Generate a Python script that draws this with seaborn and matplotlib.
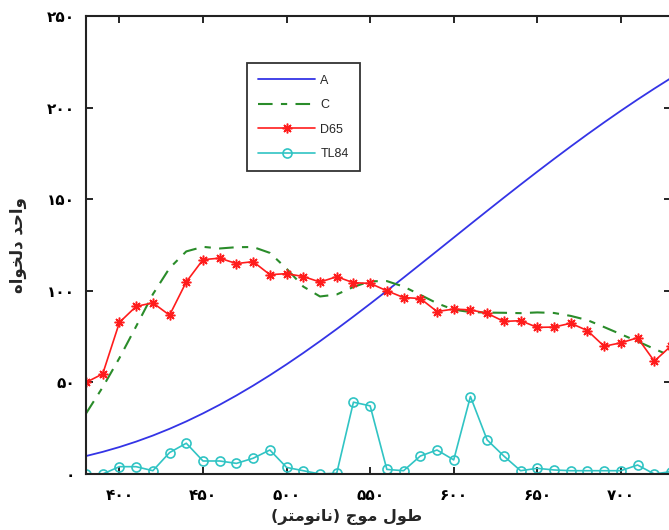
import numpy as np
import pandas as pd
import matplotlib
matplotlib.use("Agg")
import matplotlib.pyplot as plt
import seaborn as sns
from matplotlib.ticker import FixedLocator, FixedFormatter

# ---------------- data ----------------
wavelength = list(range(380, 740, 10))

illum_A = [9.80, 12.09, 14.71, 17.68, 20.99, 24.67, 28.70, 33.09, 37.81, 42.87,
           48.24, 53.91, 59.86, 66.06, 72.50, 79.13, 85.95, 92.91, 100.00, 107.18,
           114.44, 121.73, 129.04, 136.35, 143.62, 150.84, 157.98, 165.03, 171.96,
           178.77, 185.43, 191.93, 198.26, 204.41, 210.36, 216.12]

illum_C = [33.0, 47.4, 63.3, 80.6, 98.1, 112.4, 121.5, 124.0, 123.1, 123.8,
           123.9, 120.7, 112.1, 102.3, 96.9, 98.0, 102.1, 105.2, 105.3, 102.3,
           97.8, 93.2, 89.7, 88.4, 88.1, 88.0, 87.8, 88.2, 87.9, 86.3,
           84.0, 80.2, 76.3, 72.4, 68.3, 64.4]

illum_D65 = [49.98, 54.65, 82.75, 91.49, 93.43, 86.68, 104.86, 117.01, 117.81, 114.86,
             115.92, 108.81, 109.35, 107.80, 104.79, 107.69, 104.41, 104.05, 100.00, 96.33,
             95.79, 88.69, 90.01, 89.60, 87.70, 83.29, 83.70, 80.03, 80.21, 82.28,
             78.28, 69.72, 71.61, 74.35, 61.60, 69.89]

illum_TL84 = [0.0, 0.0, 4.0, 4.0, 1.8, 11.7, 16.8, 7.1, 7.1, 5.8,
              8.6, 13.1, 3.6, 1.8, 0.0, 0.4, 39.2, 37.2, 2.5, 1.8,
              9.8, 13.1, 7.7, 42.3, 18.6, 9.8, 1.8, 3.1, 2.2, 1.8,
              1.8, 1.8, 1.8, 4.9, 0.0, 1.3]

series_names = ["A", "C", "D65", "TL84"]

x_ticks = [400, 450, 500, 550, 600, 650, 700]
x_tick_labels = ["۴۰۰", "۴۵۰", "۵۰۰", "۵۵۰", "۶۰۰", "۶۵۰", "۷۰۰"]
y_ticks = [0, 50, 100, 150, 200, 250]
y_tick_labels = ["۰", "۵۰", "۱۰۰", "۱۵۰", "۲۰۰", "۲۵۰"]

x_label = "طول موج (نانومتر)"
y_label = "واحد دلخواه"

# ------------- minimal Persian shaping (visual order) -------------
FORMS = {
    'ا': (0xFE8D, 0xFE8E), 'د': (0xFEA9, 0xFEAA), 'ر': (0xFEAD, 0xFEAE),
    'و': (0xFEED, 0xFEEE),
    'ح': (0xFEA1, 0xFEA2, 0xFEA3, 0xFEA4), 'خ': (0xFEA5, 0xFEA6, 0xFEA7, 0xFEA8),
    'ط': (0xFEC1, 0xFEC2, 0xFEC3, 0xFEC4), 'ل': (0xFEDD, 0xFEDE, 0xFEDF, 0xFEE0),
    'م': (0xFEE1, 0xFEE2, 0xFEE3, 0xFEE4), 'ن': (0xFEE5, 0xFEE6, 0xFEE7, 0xFEE8),
    'ه': (0xFEE9, 0xFEEA, 0xFEEB, 0xFEEC), 'ت': (0xFE95, 0xFE96, 0xFE97, 0xFE98),
    'ج': (0xFE9D, 0xFE9E, 0xFE9F, 0xFEA0),
}


def shape(text):
    out = []
    n = len(text)
    for i, ch in enumerate(text):
        if ch not in FORMS:
            out.append(ch)
            continue
        f = FORMS[ch]
        prev = text[i - 1] if i > 0 else None
        nxt = text[i + 1] if i < n - 1 else None
        pc = prev in FORMS and len(FORMS[prev]) == 4
        nc = len(f) == 4 and nxt in FORMS
        if pc and nc:
            cp = f[3]
        elif pc:
            cp = f[1]
        elif nc:
            cp = f[2]
        else:
            cp = f[0]
        out.append(chr(cp))
    vis = "".join(reversed(out))
    vis = vis.translate(str.maketrans("()", ")("))
    return vis


# ---------------- plot ----------------
sns.set_style("ticks")
plt.rcParams["font.family"] = ["DejaVu Sans"]

fig = plt.figure(figsize=(6.69, 5.30), dpi=100)
# right spine sits just past the image edge, as in the cropped reference
ax = fig.add_axes([86 / 669, 56 / 530, 585 / 669, 458 / 530])

df = pd.DataFrame({"wl": wavelength, "A": illum_A, "C": illum_C,
                   "D65": illum_D65, "TL84": illum_TL84})

sns.lineplot(data=df, x="wl", y="A", ax=ax, color="#3434e6", lw=1.3, label="A")
sns.lineplot(data=df, x="wl", y="C", ax=ax, color="#2a8c2a", lw=1.5,
             linestyle=(0, (7, 4, 3, 4)), label="C")
sns.lineplot(data=df, x="wl", y="D65", ax=ax, color="#ff1c1c", lw=1.2,
             marker=(8, 2, 0), markersize=7, markeredgewidth=1.1,
             markeredgecolor="#ff1c1c", label="D65")
sns.lineplot(data=df, x="wl", y="TL84", ax=ax, color="#30c4c4", lw=1.2,
             marker="o", markersize=6.5, markerfacecolor="none",
             markeredgewidth=1.2, markeredgecolor="#30c4c4", label="TL84")

ax.set_xlim(380, 730)
ax.set_ylim(0, 250)
ax.xaxis.set_major_locator(FixedLocator(x_ticks))
ax.xaxis.set_major_formatter(FixedFormatter(x_tick_labels))
ax.yaxis.set_major_locator(FixedLocator(y_ticks))
ax.yaxis.set_major_formatter(FixedFormatter(y_tick_labels))

ax.tick_params(direction="in", length=5, width=1.2, top=True, right=True,
               labelsize=11, colors="black", pad=8)
ax.tick_params(axis="x", pad=10)
for lab in ax.get_xticklabels() + ax.get_yticklabels():
    lab.set_fontweight("bold")

for sp in ax.spines.values():
    sp.set_visible(True)
    sp.set_linewidth(1.5)
    sp.set_color("#222222")

ax.set_xlabel(shape(x_label), fontsize=11.5, fontweight="bold")
ax.xaxis.set_label_coords(0.446, -0.077)
ax.set_ylabel(shape(y_label), fontsize=12, fontweight="bold", labelpad=14)

leg = ax.legend(loc="upper left", bbox_to_anchor=(0.264, 0.91),
                handlelength=4.6, labelspacing=1.0,
                borderpad=0.9, handletextpad=0.4, frameon=True,
                fancybox=False, prop={"family": "Liberation Sans", "size": 9})
leg.get_frame().set_edgecolor("black")
leg.get_frame().set_linewidth(1.3)

fig.savefig("out.png", dpi=100)
